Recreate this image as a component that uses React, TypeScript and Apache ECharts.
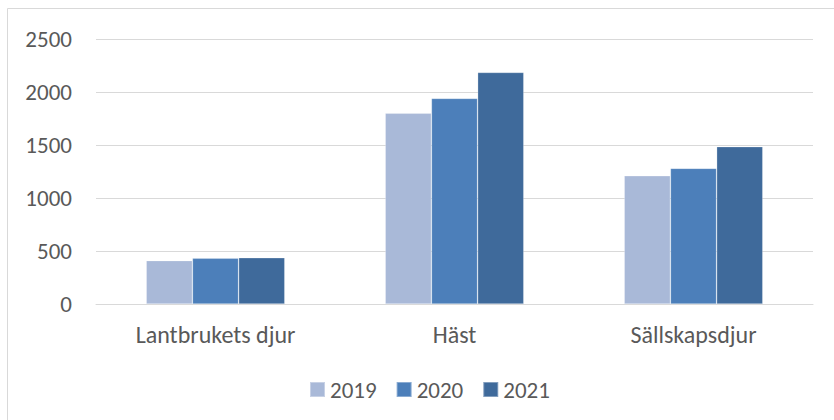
import React, { useEffect, useRef } from "react";
import * as echarts from "echarts";

const categories = ["Lantbrukets djur", "Häst", "Sällskapsdjur"];
const years = ["2019", "2020", "2021"];
const values2019 = [410, 1800, 1210];
const values2020 = [432, 1940, 1280];
const values2021 = [437, 2185, 1485];
const colors = ["#A9B9D8", "#4C7FBA", "#3F6A9B"];

export default function App() {
  const ref = useRef<HTMLDivElement>(null);
  useEffect(() => {
    if (!ref.current) return;
    const chart = echarts.init(ref.current, undefined, { renderer: "svg" });
    const font = "Carlito, Lato, 'Liberation Sans', Arial, sans-serif";
    const seriesData = [values2019, values2020, values2021];
    chart.setOption({
      animation: false,
      backgroundColor: "#ffffff",
      graphic: [
        {
          type: "rect",
          shape: { x: 7.5, y: 8.5, width: 900, height: 500 },
          style: { fill: "none", stroke: "#D9D9D9", lineWidth: 1 },
          silent: true,
        },
      ],
      grid: { left: 96, right: 21, top: 39, bottom: 116, containLabel: false },
      legend: {
        top: 373,
        left: 304,
        itemWidth: 15,
        itemHeight: 15,
        itemGap: 19,
        icon: "rect",
        textStyle: { color: "#595959", fontSize: 23, fontFamily: font },
        data: years,
      },
      xAxis: {
        type: "category",
        data: categories,
        axisLine: { show: true, lineStyle: { color: "#D9D9D9", width: 1 } },
        axisTick: { show: false },
        axisLabel: { color: "#595959", fontSize: 24, fontFamily: font, margin: 18 },
      },
      yAxis: {
        type: "value",
        min: 0,
        max: 2500,
        interval: 500,
        axisLine: { show: false },
        axisTick: { show: false },
        splitLine: { lineStyle: { color: "#D9D9D9", width: 1 } },
        axisLabel: {
          color: "#595959",
          fontSize: 23,
          fontFamily: font,
          margin: 24,
          formatter: (v: number) => String(v),
        },
      },
      series: years.map((y, i) => ({
        name: y,
        type: "bar",
        data: seriesData[i],
        barGap: "0%",
        barCategoryGap: "42%",
        itemStyle: { color: colors[i], borderColor: "rgba(255,255,255,0.35)", borderWidth: 0.7 },
      })),
    });
    return () => chart.dispose();
  }, []);
  return (
    <div
      ref={ref}
      style={{ position: "fixed", left: 0, top: 0, width: 834, height: 420 }}
    />
  );
}
